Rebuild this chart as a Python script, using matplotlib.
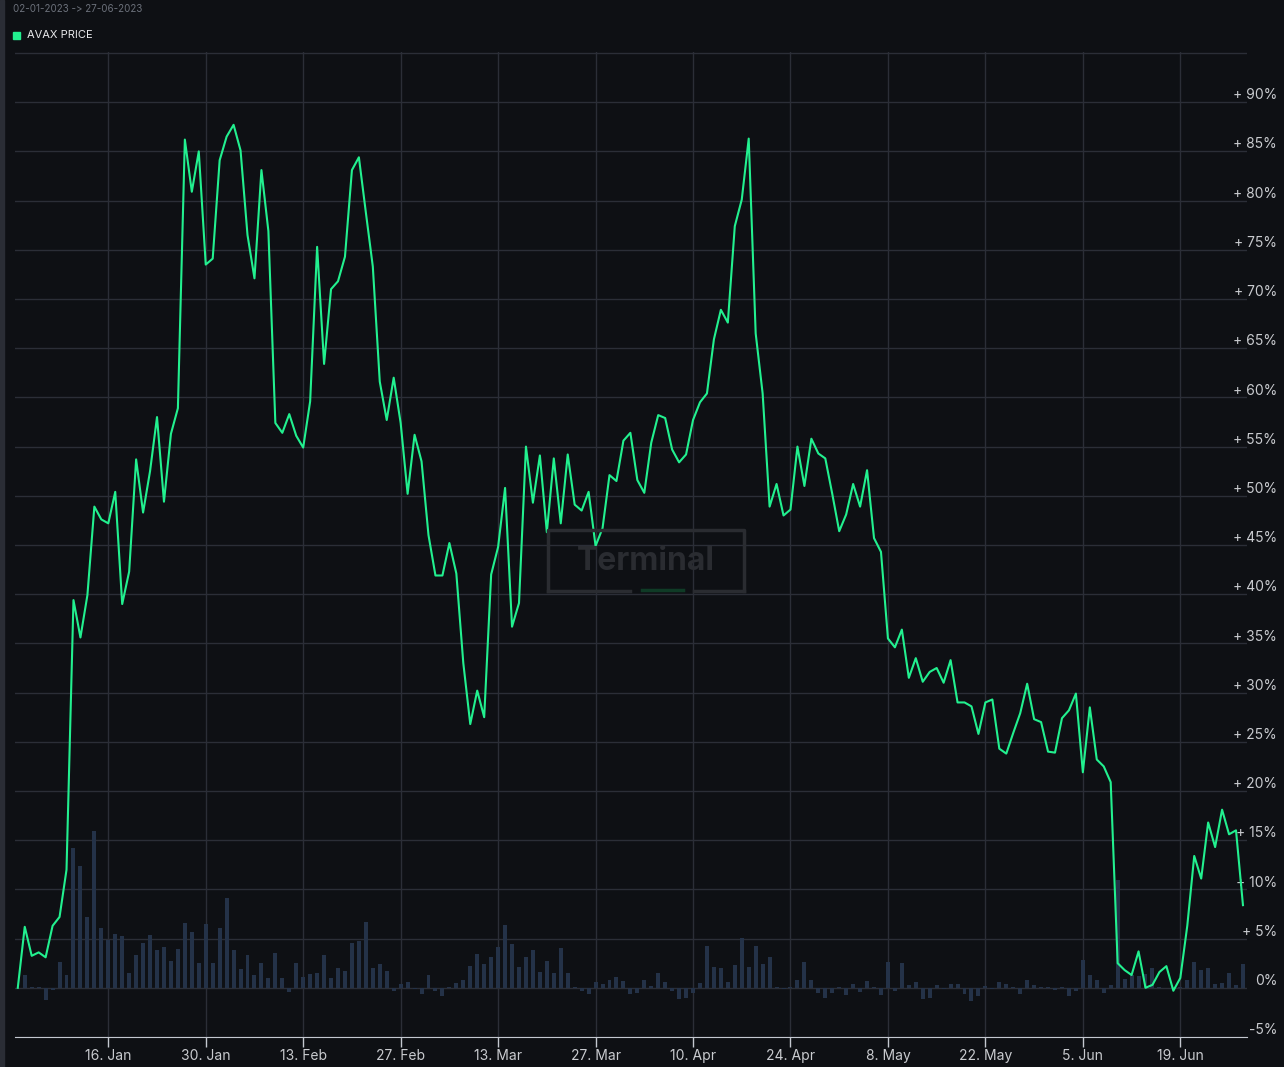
import numpy as np
import matplotlib
matplotlib.use('Agg')
import matplotlib.pyplot as plt
import matplotlib.dates as mdates
from matplotlib.lines import Line2D

plt.rcParams['font.family'] = ['Inter', 'DejaVu Sans']

# daily AVAX price change vs. first day (%), one value per day
start_date = '2023-01-03'
price_pct = [
    0.0, 6.2, 3.25, 3.6, 3.1, 6.3, 7.2, 12.0, 39.4, 35.6,
    39.9, 48.9, 47.6, 47.2, 50.4, 39.0, 42.3, 53.7, 48.3, 52.5,
    58.0, 49.4, 56.3, 58.9, 86.2, 80.9, 85.0, 73.5, 74.1, 84.1,
    86.5, 87.7, 85.1, 76.5, 72.1, 83.1, 76.9, 57.4, 56.4, 58.3,
    56.1, 54.9, 59.6, 75.3, 63.4, 71.0, 71.8, 74.3, 83.1, 84.4,
    78.8, 73.3, 61.6, 57.7, 62.0, 57.4, 50.2, 56.2, 53.5, 46.0,
    41.9, 41.9, 45.2, 42.1, 33.0, 26.8, 30.2, 27.5, 42.0, 44.8,
    50.8, 36.7, 39.1, 55.0, 49.3, 54.1, 46.3, 53.8, 47.2, 54.2,
    49.1, 48.5, 50.4, 44.9, 46.7, 52.1, 51.5, 55.6, 56.4, 51.6,
    50.3, 55.4, 58.2, 57.9, 54.7, 53.4, 54.2, 57.7, 59.5, 60.4,
    65.9, 68.9, 67.6, 77.4, 80.1, 86.3, 66.5, 60.4, 48.9, 51.2,
    48.0, 48.6, 55.0, 51.0, 55.8, 54.3, 53.8, 50.2, 46.4, 48.1,
    51.2, 48.9, 52.6, 45.7, 44.3, 35.5, 34.6, 36.4, 31.5, 33.5,
    31.1, 32.1, 32.5, 31.0, 33.3, 29.0, 29.0, 28.6, 25.8, 29.0,
    29.3, 24.3, 23.8, 25.9, 27.9, 30.9, 27.3, 27.0, 24.0, 23.9,
    27.4, 28.2, 29.9, 21.9, 28.5, 23.2, 22.5, 20.9, 2.5, 1.8,
    1.3, 3.7, 0.0, 0.3, 1.6, 2.2, -0.3, 1.0, 6.3, 13.4,
    11.1, 16.8, 14.3, 18.1, 15.6, 16.0, 8.4,
]
volume_pct = [
    0.0, 1.25, 0.05, 0.05, -1.2, -0.25, 2.6, 1.25, 14.2, 12.4,
    7.2, 15.9, 6.1, 4.9, 5.5, 5.25, 1.5, 3.3, 4.6, 5.4,
    3.8, 4.1, 2.7, 3.9, 6.6, 5.7, 2.5, 6.5, 2.5, 6.1,
    9.1, 3.8, 1.9, 3.3, 1.35, 2.5, 1.0, 3.5, 0.95, -0.45,
    2.5, 1.05, 1.45, 1.55, 3.3, 0.95, 2.0, 1.75, 4.6, 4.8,
    6.7, 2.0, 2.4, 1.75, -0.3, 0.35, 0.55, -0.15, -0.6, 1.35,
    -0.3, -0.8, 0.1, 0.45, 0.75, 2.2, 3.4, 2.4, 3.1, 4.1,
    6.4, 4.5, 2.1, 3.1, 3.8, 1.65, 2.7, 1.55, 4.0, 1.55,
    0.05, -0.35, -0.6, 0.55, 0.35, 0.75, 1.05, 0.65, -0.6, -0.5,
    0.75, 0.15, 1.55, 0.55, -0.35, -1.1, -1.0, -0.5, 0.45, 4.2,
    2.1, 2.0, 0.55, 2.3, 5.1, 2.1, 4.2, 2.4, 3.1, 0.05,
    -0.15, 0.05, 0.75, 2.6, 0.75, -0.5, -1.0, -0.5, 0.1, -0.7,
    0.35, -0.45, 0.65, 0.05, -0.7, 2.6, -0.35, 2.5, 0.25, 0.55,
    -1.1, -1.0, 0.25, -0.15, 0.35, 0.35, -0.6, -1.3, -0.8, 0.15,
    -0.15, 0.55, 0.35, 0.05, -0.6, 0.75, 0.25, 0.05, 0.05, -0.25,
    0.05, -0.8, -0.3, 2.8, 1.35, 0.75, -0.5, 0.25, 11.0, 0.85,
    1.35, 1.2, 1.45, 2.0, 0.05, -0.05, 0.05, 0.05, 0.75, 2.6,
    1.85, 2.0, 0.35, 0.45, 1.55, 0.25, 2.4,
]
tick_dates = ['2023-01-16', '2023-01-30', '2023-02-13', '2023-02-27', '2023-03-13',
              '2023-03-27', '2023-04-10', '2023-04-24', '2023-05-08', '2023-05-22',
              '2023-06-05', '2023-06-19']
tick_labels = ['16. Jan', '30. Jan', '13. Feb', '27. Feb', '13. Mar', '27. Mar',
               '10. Apr', '24. Apr', '8. May', '22. May', '5. Jun', '19. Jun']
y_ticks = list(range(-5, 95, 5))

bg = '#0e1014'
grid_col = '#2b2e37'
line_col = '#22f08f'
bar_col = '#243248'
text_col = '#c9cbcf'

d0 = np.datetime64(start_date)
dates = mdates.date2num(np.arange(d0, d0 + len(price_pct)))

fig = plt.figure(figsize=(12.84, 10.67), dpi=100, facecolor=bg)
ax = fig.add_axes([15 / 1284, 30 / 1067, 1232 / 1284, 985 / 1067], facecolor=bg)

ax.bar(dates, volume_pct, width=0.57, color=bar_col, zorder=2)
ax.plot(dates, price_pct, color=line_col, lw=1.5, zorder=4)

ax.set_xlim(dates[0] - 0.4, dates[-1] + 0.58)
ax.set_ylim(-5, 95.1)

ax.set_yticks(y_ticks + [95])
ax.yaxis.set_tick_params(length=0, labelleft=False)
ax.set_xticks(mdates.date2num(np.array(tick_dates, dtype='datetime64[D]')))
ax.set_xticklabels(tick_labels)
ax.tick_params(axis='x', colors='#c4c8d0', length=7, width=1, pad=1.5,
               labelsize=10, labelcolor=text_col)
ax.grid(True, color=grid_col, lw=1, zorder=0)

for s in ['top', 'left', 'right']:
    ax.spines[s].set_visible(False)
ax.spines['bottom'].set_color('#c4c8d0')
ax.spines['bottom'].set_zorder(5)

for v in y_ticks:
    lab = f'+ {v}%' if v > 0 else f'{v}%'
    ax.text(1.0244, v + 0.7, lab, transform=ax.get_yaxis_transform(),
            ha='right', va='center', fontsize=10, color=text_col,
            clip_on=False, zorder=3)

# header
fig.text(13 / 1284, 1 - 9 / 1067, '02-01-2023 -> 27-06-2023', fontsize=7,
         color='#6c717b', va='center', ha='left')
fig.patches.append(plt.Rectangle((13 / 1284, 1 - 39 / 1067), 7 / 1284, 7 / 1067,
                                 transform=fig.transFigure, color=line_col))
fig.text(27 / 1284, 1 - 35 / 1067, 'AVAX PRICE', fontsize=8,
         color='#e8e9eb', va='center', ha='left')

# left edge strip
fig.patches.append(plt.Rectangle((0, 0), 4 / 1284, 1, transform=fig.transFigure,
                                 color='#2a2d35'))

# watermark
def fx(px):
    return px / 1284


def fy(py):
    return 1 - py / 1067


wm = '#2a2c31'
for xs, ys, c in [((548, 548, 744, 744), (591, 530, 530, 591), wm),
                  ((548, 630), (591, 591), wm),
                  ((694, 744), (591, 591), wm),
                  ((642, 683), (590, 590), '#0f3b26')]:
    fig.add_artist(Line2D([fx(x) for x in xs], [fy(y) for y in ys],
                          transform=fig.transFigure, color=c, lw=2.5, zorder=1))
fig.text(fx(646), fy(561), 'Terminal', fontsize=23, fontweight='bold',
         color=wm, ha='center', va='center', zorder=1)

fig.savefig('out.png', dpi=100, facecolor=bg)
